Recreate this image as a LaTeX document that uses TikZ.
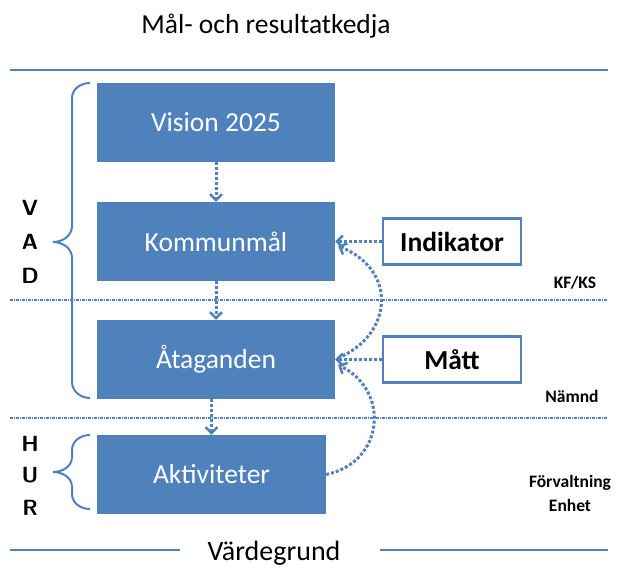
\documentclass[tikz,border=0pt]{standalone}
\usepackage{fontspec}
\setmainfont{Carlito}
\usetikzlibrary{arrows.meta}
\definecolor{obl}{HTML}{4F81BD}
\begin{document}
\begin{tikzpicture}[x=1pt,y=-1pt,
  bluebox/.style={fill=obl,draw=none,text=white,font=\fontsize{27.5}{29}\selectfont,inner sep=0pt},
  whitebox/.style={fill=white,draw=obl,line width=2.5pt,font=\bfseries\fontsize{27.5}{29}\selectfont,inner sep=0pt},
  dotarrow/.style={draw=obl,line width=3pt,dash pattern=on 3pt off 2pt,-{Straight Barb[length=6pt,width=12pt,line width=2.5pt]}},
  sepline/.style={draw=obl,line width=1.3pt,dash pattern=on 3pt off 1pt on 1pt off 1pt},
  solidline/.style={draw=obl,line width=2pt},
  bracestyle/.style={draw=obl,line width=2pt},
  sidelabel/.style={font=\bfseries\fontsize{17.5}{19}\selectfont,inner sep=0pt},
  letter/.style={font=\bfseries\sffamily\fontsize{22}{23}\selectfont,inner sep=0pt}]
\useasboundingbox (0,0) rectangle (619,568);

\node[font=\fontsize{27.5}{29}\selectfont] (title) at (266,26) {Mål- och resultatkedja};
\draw[solidline] (10,70) -- (608,70);
\node[font=\fontsize{28}{30}\selectfont,inner sep=0pt] (vg) at (274,553) {Värdegrund};
\draw[solidline] (10,550) -- (180,550);
\draw[solidline] (380,550) -- (608,550);

\draw[sepline] (10,300) -- (608,300);
\draw[sepline] (10,418) -- (608,418);

\node[bluebox,minimum width=238pt,minimum height=79pt] (vis) at (216,122.5) {Vision 2025};
\node[bluebox,minimum width=238pt,minimum height=79pt] (km) at (216,241.5) {Kommunmål};
\node[bluebox,minimum width=238pt,minimum height=79pt] (at) at (216,359.5) {Åtaganden};
\node[bluebox,minimum width=229pt,minimum height=79pt] (ak) at (211.5,474.5) {Aktiviteter};

\node[whitebox,minimum width=138pt,minimum height=46pt] (ind) at (452,241.5) {Indikator};
\node[whitebox,minimum width=138pt,minimum height=46pt] (mat) at (452,359.5) {Mått};

\node[sidelabel] (kf) at (575,283) {KF/KS};
\node[sidelabel] (nm) at (572,396) {Nämnd};
\node[sidelabel] (fv) at (570,483) {Förvaltning};
\node[sidelabel] (en) at (570,505) {Enhet};

\node[letter] (lv) at (30,208) {V};
\node[letter] (la) at (30,242) {A};
\node[letter] (ld) at (30,276) {D};
\node[letter] (lh) at (30,444) {H};
\node[letter] (lu) at (30,475) {U};
\node[letter] (lr) at (30,508) {R};

% arrows between boxes
\draw[dotarrow] (vis.south) -- (km.north);
\draw[dotarrow] (km.south) -- (at.north);
\draw[dotarrow] (ak.north |- at.south) -- (ak.north);
\draw[dotarrow] (ind.west) -- (km.east);
\draw[dotarrow] (mat.west) -- (at.east);

% curved arrows
\coordinate (c1s) at (338,358);
\coordinate (c1e) at (338,246);
\coordinate (c2s) at (ak.east);
\coordinate (c2e) at (338,365);
\draw[dotarrow] (c1s) .. controls (393,335) and (398,270) .. (c1e);
\draw[dotarrow] (c2s) .. controls (385,462) and (390,390) .. (c2e);

% braces
\draw[bracestyle] (90,83) to[out=180,in=90] (72,98) -- (72,226) to[out=-90,in=0] (53,242)
  to[out=0,in=90] (72,258) -- (72,382) to[out=-90,in=180] (90,398);
\draw[bracestyle] (90,435) to[out=180,in=90] (72,450) -- (72,457) to[out=-90,in=0] (53,472)
  to[out=0,in=90] (72,487) -- (72,494) to[out=-90,in=180] (90,509);
\end{tikzpicture}
\end{document}
